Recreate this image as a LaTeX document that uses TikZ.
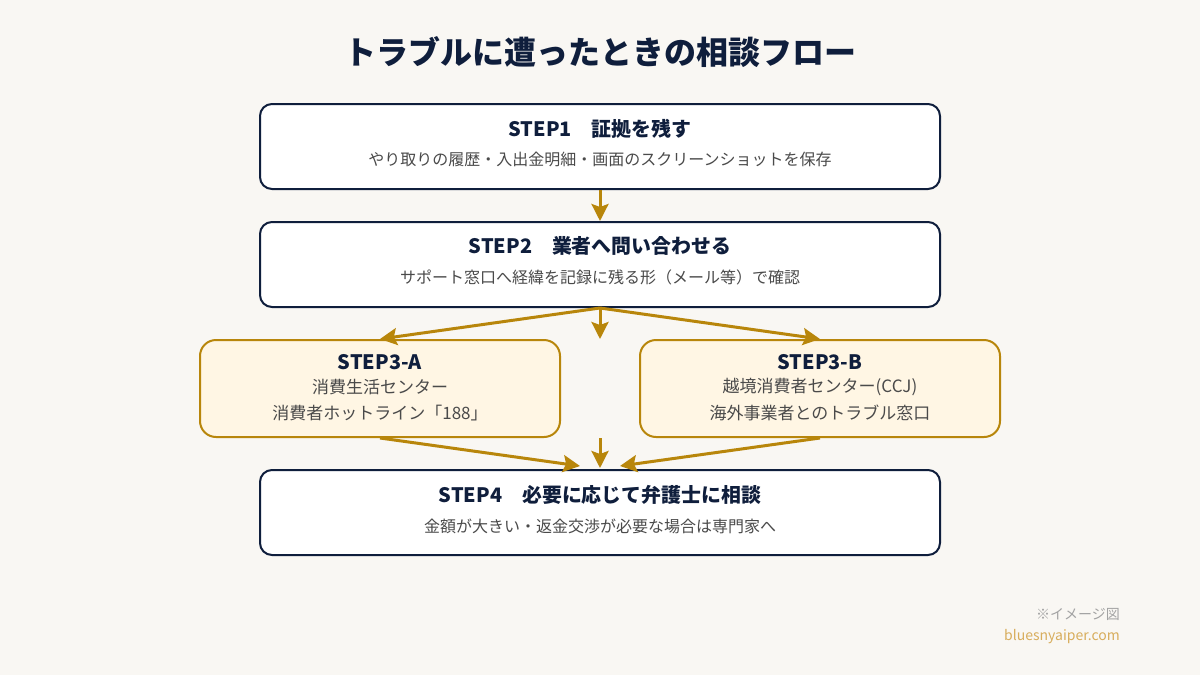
\documentclass[tikz,border=0pt]{standalone}
\usepackage{fontspec}
\setmainfont{Noto Sans CJK JP}
\usetikzlibrary{arrows.meta}
\definecolor{navy}{HTML}{0F1E3C}
\definecolor{gold}{HTML}{B8860B}
\definecolor{paper}{HTML}{F9F7F3}
\definecolor{cream}{HTML}{FFF6E4}
\definecolor{subgray}{HTML}{4A4A4A}
\definecolor{notegray}{HTML}{A3A3A3}
\definecolor{sitegold}{HTML}{D8AD5C}

\begin{document}
\begin{tikzpicture}[x=1pt,y=-1pt]
\tikzstyle{stepbox}=[draw=navy,line width=2pt,fill=white,rounded corners=12pt,minimum width=680pt,minimum height=85pt,inner sep=0pt]
\tikzstyle{branchbox}=[draw=gold,line width=2pt,fill=cream,rounded corners=16pt,minimum width=360pt,minimum height=97pt,inner sep=0pt]
\tikzstyle{headtext}=[text=navy,font=\fontsize{19.9}{23}\selectfont\bfseries,inner sep=0pt]
\tikzstyle{subtext}=[text=subgray,font=\fontsize{16}{19}\selectfont,inner sep=0pt]
\tikzstyle{linetext}=[text=subgray,font=\fontsize{17}{20}\selectfont,inner sep=0pt]
\tikzstyle{flow}=[draw=gold,line width=3pt,-{Stealth[length=17pt,width=17pt,inset=3pt]}]

\fill[paper] (0,0) rectangle (1200,675);
\useasboundingbox (0,0) rectangle (1200,675);

% title
\node[text=navy,font=\fontsize{32}{36}\selectfont\bfseries] (title) at (600,52) {トラブルに遭ったときの相談フロー};

% steps
\node[stepbox] (s1) at (600,146.5) {};
\node[headtext] (s1h) at (600,129) {STEP1　証拠を残す};
\node[subtext] (s1t) at (600,159) {やり取りの履歴・入出金明細・画面のスクリーンショットを保存};

\node[stepbox] (s2) at (600,264.5) {};
\node[headtext] (s2h) at (600,246) {STEP2　業者へ問い合わせる};
\node[subtext] (s2t) at (600,277) {サポート窓口へ経緯を記録に残る形（メール等）で確認};

\node[branchbox] (a) at (380,388.5) {};
\node[headtext] (ah) at (380,362) {STEP3-A};
\node[linetext] (a1) at (380,387) {消費生活センター};
\node[linetext] (a2) at (380,413) {消費者ホットライン「188」};

\node[branchbox] (b) at (820,388.5) {};
\node[headtext] (bh) at (820,362) {STEP3-B};
\node[linetext] (b1) at (820,387) {越境消費者センター(CCJ)};
\node[linetext] (b2) at (820,413) {海外事業者とのトラブル窓口};

\node[stepbox] (s4) at (600,512.5) {};
\node[headtext] (s4h) at (600,495) {STEP4　必要に応じて弁護士に相談};
\node[subtext] (s4t) at (600,526) {金額が大きい・返金交渉が必要な場合は専門家へ};

% arrows
\coordinate (mid1) at (600,339);
\coordinate (mid2) at (600,438);
\coordinate (inl) at (580,466);
\coordinate (inc) at (600,468);
\coordinate (inr) at (620,466);
\draw[flow] (s1.south) -- (s2.north);
\draw[flow] (s2.south) -- (a.north);
\draw[flow] (s2.south) -- (mid1);
\draw[flow] (s2.south) -- (b.north);
\draw[flow] (a.south) -- (inl);
\draw[flow] (mid2) -- (inc);
\draw[flow] (b.south) -- (inr);

% footer
\node[anchor=east,text=notegray,font=\fontsize{14}{16}\selectfont,inner sep=0pt] (note) at (1120,614) {※イメージ図};
\node[anchor=east,text=sitegold,font=\fontsize{14}{16}\selectfont,inner sep=0pt] (site) at (1120,637) {bluesnyaiper.com};
\end{tikzpicture}
\end{document}
